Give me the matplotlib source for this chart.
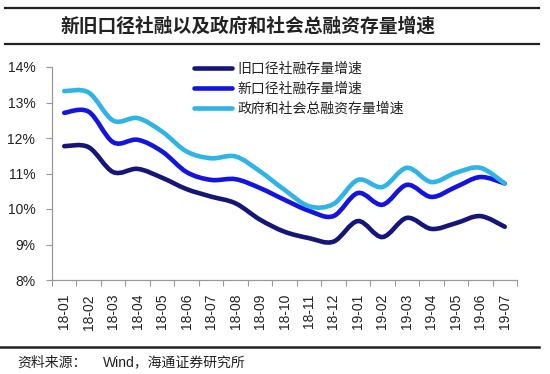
import matplotlib
matplotlib.use("Agg")
import matplotlib.pyplot as plt
from matplotlib.path import Path
from matplotlib.patches import PathPatch
from matplotlib.lines import Line2D
import numpy as np

plt.rcParams['font.family'] = ['Liberation Sans', 'Noto Sans CJK SC']

categories = ["18-01", "18-02", "18-03", "18-04", "18-05", "18-06", "18-07", "18-08",
              "18-09", "18-10", "18-11", "18-12", "19-01", "19-02", "19-03", "19-04",
              "19-05", "19-06", "19-07"]
old_caliber = [11.77, 11.74, 11.04, 11.13, 10.88, 10.56, 10.35, 10.16, 9.70, 9.36,
               9.18, 9.08, 9.66, 9.21, 9.75, 9.44, 9.60, 9.80, 9.50]
new_caliber = [12.71, 12.74, 11.88, 11.95, 11.62, 11.04, 10.82, 10.84, 10.59, 10.26,
               9.95, 9.80, 10.45, 10.12, 10.68, 10.34, 10.62, 10.90, 10.72]
gov_social = [13.32, 13.28, 12.49, 12.56, 12.18, 11.62, 11.43, 11.48, 11.06, 10.54,
              10.08, 10.14, 10.82, 10.62, 11.16, 10.76, 11.02, 11.16, 10.72]
series_names = ["旧口径社融存量增速", "新口径社融存量增速", "政府和社会总融资存量增速"]
yticks = [8, 9, 10, 11, 12, 13, 14]

colors = ["#15157a", "#1414e0", "#2fb4e6"]

fig = plt.figure(figsize=(5.5, 3.74), dpi=100)
W, H = 550, 374
ax = fig.add_axes([52 / W, 1 - 280 / H, 465 / W, 213 / H])


def smooth_path(xs, ys):
    pts = np.column_stack([xs, ys]).astype(float)
    n = len(pts)
    verts = [pts[0]]
    codes = [Path.MOVETO]
    for i in range(n - 1):
        p0 = pts[i - 1] if i > 0 else pts[i]
        p1 = pts[i]
        p2 = pts[i + 1]
        p3 = pts[i + 2] if i + 2 < n else pts[i + 1]
        c1 = p1 + (p2 - p0) / 6.0
        c2 = p2 - (p3 - p1) / 6.0
        verts += [c1, c2, p2]
        codes += [Path.CURVE4] * 3
    return Path(verts, codes)


x = np.arange(len(categories))
handles = []
for vals, col, name in zip([old_caliber, new_caliber, gov_social], colors, series_names):
    patch = PathPatch(smooth_path(x, vals), facecolor='none', edgecolor=col,
                      lw=3.3, capstyle='round', joinstyle='round', zorder=3)
    ax.add_patch(patch)
    handles.append(Line2D([0], [0], color=col, lw=3.3, solid_capstyle='round', label=name))

ax.set_xlim(-0.5, len(categories) - 0.5)
ax.set_ylim(8, 14)
ax.set_yticks(yticks)
ax.set_yticklabels([f"{v}%" for v in yticks])
ax.set_xticks(x)
ax.set_xticklabels(categories, rotation=90)
ax.set_xticks(np.arange(-0.5, len(categories), 1.0), minor=True)
ax.tick_params(axis='x', which='major', length=0, pad=10, labelsize=10, labelcolor='#222222')
ax.tick_params(axis='x', which='minor', length=4, width=0.8, color='#999999', direction='out')
ax.tick_params(axis='y', which='major', length=4, width=0.8, color='#999999', direction='out',
               pad=8, labelsize=10, labelcolor='#222222')
for s in ['top', 'right']:
    ax.spines[s].set_visible(False)
for s in ['left', 'bottom']:
    ax.spines[s].set_color('#999999')
    ax.spines[s].set_linewidth(0.9)

leg = fig.legend(handles=handles, loc='upper left', bbox_to_anchor=(194 / W, 1 - 62 / H),
                 frameon=False, fontsize=10, handlelength=2.7, handletextpad=0.45,
                 labelspacing=0.42, borderpad=0, borderaxespad=0)
for t in leg.get_texts():
    t.set_color('#222222')

# header and footer rules
fig.add_artist(Line2D([5 / W, 539 / W], [1 - 7.5 / H, 1 - 7.5 / H], color='#222222', lw=1.6))
fig.add_artist(Line2D([5 / W, 539 / W], [1 - 44 / H, 1 - 44 / H], color='#222222', lw=1.6))
fig.add_artist(Line2D([0 / W, 539 / W], [1 - 346.5 / H, 1 - 346.5 / H], color='#222222', lw=1.8))

fig.text(61 / W, 1 - 26.5 / H, "新旧口径社融以及政府和社会总融资存量增速", fontsize=13.5,
         fontweight='bold', ha='left', va='center', color='#222222')
fig.text(17 / W, 1 - 363 / H, "资料来源：", fontsize=10, ha='left', va='center', color='#222222')
fig.text(103 / W, 1 - 363 / H, "Wind，海通证券研究所", fontsize=10, ha='left', va='center',
         color='#222222')

fig.savefig("out.png", dpi=100)
